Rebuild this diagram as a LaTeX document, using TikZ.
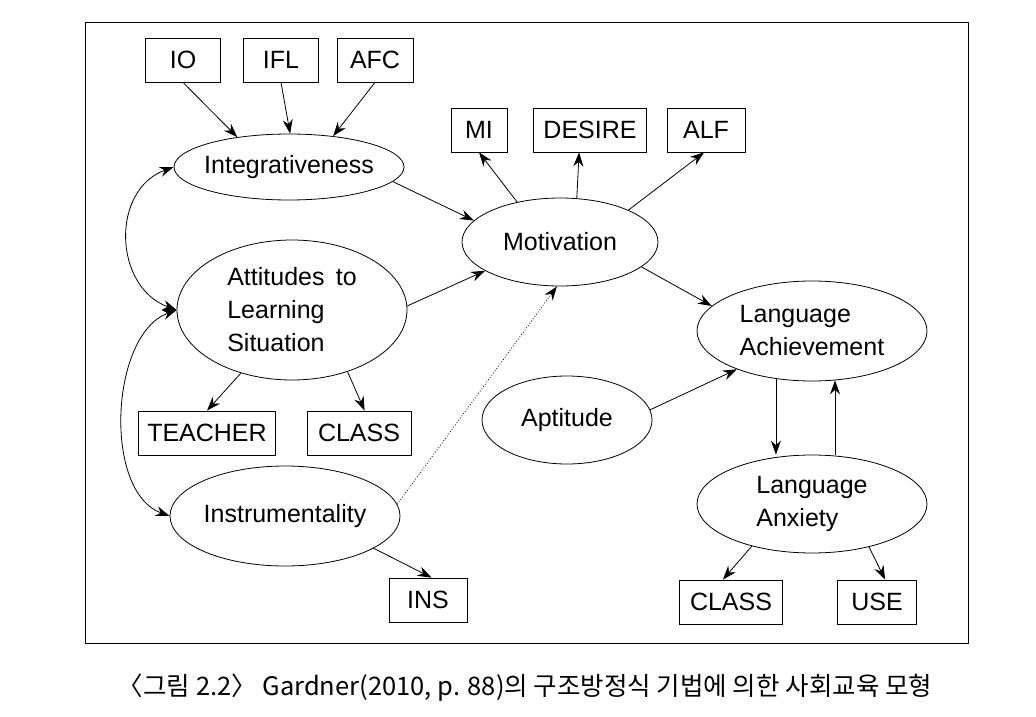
\documentclass[tikz,border=0pt]{standalone}
\usepackage{fontspec}
\setmainfont{Liberation Sans}
\newfontfamily\krfont{Noto Sans CJK KR}
\usetikzlibrary{arrows.meta,shapes.geometric}

\begin{document}
\begin{tikzpicture}[x=1pt,y=1pt,line width=0.8pt,
  >={Stealth[length=14pt,width=10pt]},
  every node/.style={font=\fontsize{25}{33}\selectfont},
  bx/.style={draw,minimum height=44pt,inner sep=0pt},
  el/.style={draw,ellipse,inner sep=0pt,align=left}]
\useasboundingbox (0,0) rectangle (1036,-717);
\draw (85,-22) rectangle (968,-643);
\node[bx,minimum width=75pt] (io) at (183,-60) {IO};
\node[bx,minimum width=75pt] (ifl) at (281,-60) {IFL};
\node[bx,minimum width=76pt] (afc) at (375,-60) {AFC};
\node[bx,minimum width=56pt] (mi) at (479,-130) {MI};
\node[bx,minimum width=113pt] (des) at (590,-130) {DESIRE};
\node[bx,minimum width=78pt] (alf) at (706,-130) {ALF};
\node[bx,minimum width=137pt] (tea) at (207,-433) {TEACHER};
\node[bx,minimum width=104pt] (cls) at (359,-433) {CLASS};
\node[bx,minimum width=78pt] (ins) at (428,-600) {INS};
\node[bx,minimum width=103pt] (clsb) at (731,-602) {CLASS};
\node[bx,minimum width=79pt] (use) at (877,-602) {USE};
\node[el,minimum width=230pt,minimum height=66pt,inner xsep=-12pt] (int)
  at (289,-167) {Integrativeness};
\node[el,minimum width=230pt,minimum height=140pt] (att) at (292,-310)
  {Attitudes\hspace{.45em}to\\Learning\\Situation};
\node[el,minimum width=230pt,minimum height=100pt,inner xsep=-12pt] (itl)
  at (285,-516) {Instrumentality};
\node[el,minimum width=196pt,minimum height=88pt] (mot) at (560,-242) {Motivation};
\node[el,minimum width=170pt,minimum height=88pt] (apt) at (567,-420) {Aptitude};
\node[el,minimum width=230pt,minimum height=100pt] (ach) at (812,-331)
  {Language\\Achievement};
\node[el,minimum width=230pt,minimum height=98pt] (anx) at (812,-504)
  {Language\\Anxiety};
\draw[->] (io.south) -- (int.150);
\draw[->] (ifl.south) -- (int.88);
\draw[->] (afc.south) -- (int.35);
\draw[->] (int.-8) -- (mot.166);
\draw[->] (att.2) -- (mot.201);
\draw[->,dotted] (itl.6) -- (mot.266);
\draw[->] (mot.137) -- (mi.south);
\draw[->] (mot.69) -- (des.-116);
\draw[->] (mot.25) -- (alf.-95);
\draw[->] (mot.-17) -- (ach.166);
\draw[->] (apt.7) -- (ach.207);
\draw[->] (ach.233) -- (ach.233 |- anx.north);
\draw[->] (anx.north -| ach.-65) -- (ach.-65);
\draw[->] (att.231) -- (tea.north);
\draw[->] (att.-48) -- (cls.76);
\draw[->] (itl.-20) -- (ins.81);
\draw[->] (anx.215) -- (clsb.110);
\draw[->] (anx.-37) -- (use.70);
\draw[<->] (int.west) to[out=200,in=160,looseness=1.2] (att.west);
\draw[<->] (att.west) to[out=200,in=160,looseness=0.88] (itl.west);
\node[font=\krfont\fontsize{25.5}{30}\selectfont] (cap) at (525,-688)
  {〈그림 2.2〉 Gardner(2010, p. 88)의 구조방정식 기법에 의한 사회교육 모형};
\end{tikzpicture}
\end{document}
